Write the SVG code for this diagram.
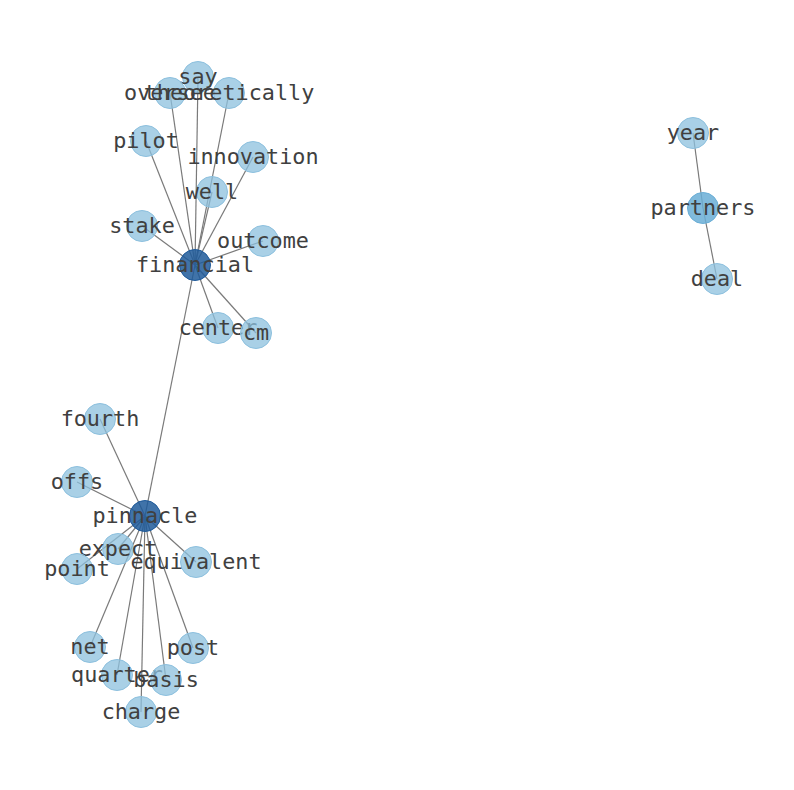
<svg xmlns="http://www.w3.org/2000/svg" width="794" height="790" viewBox="0 0 794 790">
<style>
.e{stroke:#7a7a7a;stroke-width:1.2;fill:none}
.n{fill:#8cc0de;fill-opacity:0.75;stroke:#8cc0de;stroke-width:1}
.h{fill:#1f5a9a;fill-opacity:0.85;stroke:#1f5a9a;stroke-width:1}
.m{fill:#6aaed6;fill-opacity:0.85;stroke:#6aaed6;stroke-width:1}
text{font-family:"DejaVu Sans Mono",monospace;font-size:21.8px;fill:#404040;text-anchor:middle;dominant-baseline:central}
</style>
<rect width="794" height="790" fill="#fff"/>
<g id="edges">
<line class="e" x1="195" y1="265" x2="198" y2="77"/>
<line class="e" x1="195" y1="265" x2="170" y2="93"/>
<line class="e" x1="195" y1="265" x2="229" y2="93"/>
<line class="e" x1="195" y1="265" x2="146" y2="141"/>
<line class="e" x1="195" y1="265" x2="253" y2="157"/>
<line class="e" x1="195" y1="265" x2="212" y2="192"/>
<line class="e" x1="195" y1="265" x2="142" y2="226"/>
<line class="e" x1="195" y1="265" x2="263" y2="241"/>
<line class="e" x1="195" y1="265" x2="218" y2="328"/>
<line class="e" x1="195" y1="265" x2="256" y2="333"/>
<line class="e" x1="195" y1="265" x2="145" y2="516"/>
<line class="e" x1="145" y1="516" x2="100" y2="419"/>
<line class="e" x1="145" y1="516" x2="77" y2="482"/>
<line class="e" x1="145" y1="516" x2="118" y2="549"/>
<line class="e" x1="145" y1="516" x2="77" y2="569"/>
<line class="e" x1="145" y1="516" x2="196" y2="562"/>
<line class="e" x1="145" y1="516" x2="90" y2="647"/>
<line class="e" x1="145" y1="516" x2="193" y2="648"/>
<line class="e" x1="145" y1="516" x2="117" y2="675"/>
<line class="e" x1="145" y1="516" x2="166" y2="680"/>
<line class="e" x1="145" y1="516" x2="141" y2="712"/>
<line class="e" x1="693" y1="133" x2="703" y2="208"/>
<line class="e" x1="703" y1="208" x2="717" y2="279"/>
</g>
<g id="node-say"><circle class="n" cx="198" cy="77" r="15.5"/><text x="198" y="76">say</text></g>
<g id="node-oversee"><circle class="n" cx="170" cy="93" r="15.5"/><text x="170" y="92">oversee</text></g>
<g id="node-theoretically"><circle class="n" cx="229" cy="93" r="15.5"/><text x="229" y="92">theoretically</text></g>
<g id="node-pilot"><circle class="n" cx="146" cy="141" r="15.5"/><text x="146" y="140">pilot</text></g>
<g id="node-innovation"><circle class="n" cx="253" cy="157" r="15.5"/><text x="253" y="156">innovation</text></g>
<g id="node-well"><circle class="n" cx="212" cy="192" r="15.5"/><text x="212" y="191">well</text></g>
<g id="node-stake"><circle class="n" cx="142" cy="226" r="15.5"/><text x="142" y="225">stake</text></g>
<g id="node-outcome"><circle class="n" cx="263" cy="241" r="15.5"/><text x="263" y="240">outcome</text></g>
<g id="node-center"><circle class="n" cx="218" cy="328" r="15.5"/><text x="218" y="327">center</text></g>
<g id="node-cm"><circle class="n" cx="256" cy="333" r="15.5"/><text x="256" y="332">cm</text></g>
<g id="node-financial"><circle class="h" cx="195" cy="265" r="15.5"/><text x="195" y="264">financial</text></g>
<g id="node-fourth"><circle class="n" cx="100" cy="419" r="15.5"/><text x="100" y="418">fourth</text></g>
<g id="node-offs"><circle class="n" cx="77" cy="482" r="15.5"/><text x="77" y="481">offs</text></g>
<g id="node-expect"><circle class="n" cx="118" cy="549" r="15.5"/><text x="118" y="548">expect</text></g>
<g id="node-point"><circle class="n" cx="77" cy="569" r="15.5"/><text x="77" y="568">point</text></g>
<g id="node-equivalent"><circle class="n" cx="196" cy="562" r="15.5"/><text x="196" y="561">equivalent</text></g>
<g id="node-net"><circle class="n" cx="90" cy="647" r="15.5"/><text x="90" y="646">net</text></g>
<g id="node-post"><circle class="n" cx="193" cy="648" r="15.5"/><text x="193" y="647">post</text></g>
<g id="node-quarter"><circle class="n" cx="117" cy="675" r="15.5"/><text x="117" y="674">quarter</text></g>
<g id="node-basis"><circle class="n" cx="166" cy="680" r="15.5"/><text x="166" y="679">basis</text></g>
<g id="node-charge"><circle class="n" cx="141" cy="712" r="15.5"/><text x="141" y="711">charge</text></g>
<g id="node-pinnacle"><circle class="h" cx="145" cy="516" r="15.5"/><text x="145" y="515">pinnacle</text></g>
<g id="node-year"><circle class="n" cx="693" cy="133" r="15.5"/><text x="693" y="132">year</text></g>
<g id="node-deal"><circle class="n" cx="717" cy="279" r="15.5"/><text x="717" y="278">deal</text></g>
<g id="node-partners"><circle class="m" cx="703" cy="208" r="15.5"/><text x="703" y="207">partners</text></g>
</svg>
